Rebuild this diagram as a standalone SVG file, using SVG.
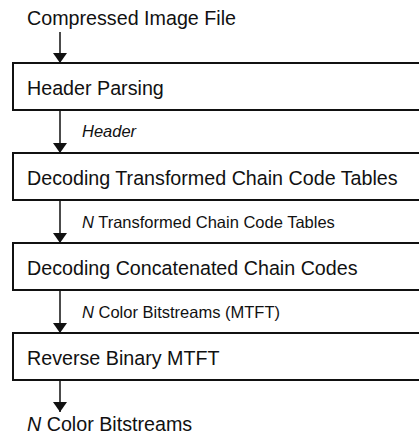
<svg xmlns="http://www.w3.org/2000/svg" width="419" height="436" viewBox="0 0 419 436">
  <style>
    .box { fill: #ffffff; stroke: #111111; stroke-width: 2; }
    .step { font-family: "Liberation Sans", Arial, sans-serif; font-size: 19.7px; fill: #111111; }
    .lbl { font-family: "Liberation Sans", Arial, sans-serif; font-size: 16.5px; fill: #111111; }
    .it { font-style: italic; }
    .wire { stroke: #111111; stroke-width: 1.5; fill: none; }
  </style>
  <defs>
    <!-- wide, short filled arrowhead: 10 long, 14 across -->
    <marker id="head" markerWidth="10" markerHeight="14" refX="10" refY="7" orient="auto" markerUnits="userSpaceOnUse">
      <path d="M0,0 L10,7 L0,14 Z" fill="#111111"/>
    </marker>
  </defs>
  <rect width="419" height="436" fill="#ffffff"/>

  <!-- connectors -->
  <g id="connectors">
    <line class="wire" x1="60" y1="32" x2="60" y2="63" marker-end="url(#head)"/>
    <line class="wire" x1="60" y1="110" x2="60" y2="153" marker-end="url(#head)"/>
    <line class="wire" x1="60" y1="200" x2="60" y2="243" marker-end="url(#head)"/>
    <line class="wire" x1="60" y1="290" x2="60" y2="333" marker-end="url(#head)"/>
    <line class="wire" x1="60" y1="380" x2="60" y2="412" marker-end="url(#head)"/>
  </g>

  <!-- data labels on the connectors -->
  <g id="labels">
    <text class="lbl it" x="82" y="137">Header</text>
    <text class="lbl" x="82" y="228"><tspan class="it">N</tspan> Transformed Chain Code Tables</text>
    <text class="lbl" x="82" y="318"><tspan class="it">N</tspan> Color Bitstreams (MTFT)</text>
  </g>

  <g id="input">
    <text class="step" x="27" y="25">Compressed Image File</text>
  </g>

  <g id="header-parsing">
    <rect class="box" x="13" y="63" width="420" height="47"/>
    <text class="step" x="27" y="95">Header Parsing</text>
  </g>

  <g id="decode-tables">
    <rect class="box" x="13" y="153" width="420" height="47"/>
    <text class="step" x="27" y="185">Decoding Transformed Chain Code Tables</text>
  </g>

  <g id="decode-chains">
    <rect class="box" x="13" y="243" width="420" height="47"/>
    <text class="step" x="27" y="275">Decoding Concatenated Chain Codes</text>
  </g>

  <g id="reverse-mtft">
    <rect class="box" x="13" y="333" width="420" height="47"/>
    <text class="step" x="27" y="365">Reverse Binary MTFT</text>
  </g>

  <g id="output">
    <text class="step" x="27" y="431"><tspan class="it">N</tspan> Color Bitstreams</text>
  </g>
</svg>
